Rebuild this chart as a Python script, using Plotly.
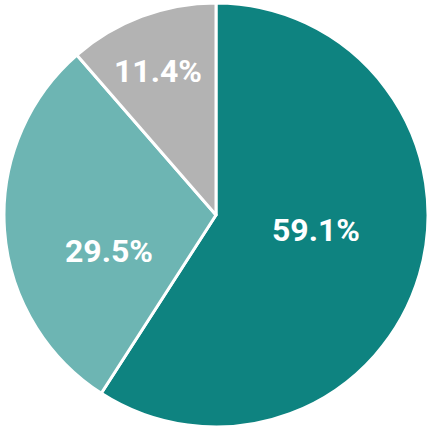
import plotly.graph_objects as go

labels = ["A", "B", "C"]
values = [59.1, 29.5, 11.4]
text_labels = ["59.1%", "29.5%", "11.4%"]
colors = ["#0e8380", "#6db5b3", "#b3b3b3"]

# label anchor positions (paper coords)
label_x = [0.735, 0.249, 0.364]
label_y = [0.465, 0.415, 0.840]

fig = go.Figure(go.Pie(
    labels=labels,
    values=values,
    textinfo="none",
    sort=False,
    direction="clockwise",
    rotation=0,
    marker=dict(colors=colors, line=dict(color="white", width=3)),
    hoverinfo="none",
))
for t, x, y in zip(text_labels, label_x, label_y):
    fig.add_annotation(
        text=t, x=x, y=y, xref="paper", yref="paper",
        showarrow=False, xanchor="center", yanchor="middle",
        font=dict(family="Roboto", size=32, color="white", weight="bold"),
    )
fig.update_layout(
    width=432, height=432,
    margin=dict(l=3, r=3, t=3, b=5),
    showlegend=False,
    paper_bgcolor="white",
)
fig.write_html("out.html", config={"displayModeBar": False},
               post_script="document.body.style.margin='0';")
